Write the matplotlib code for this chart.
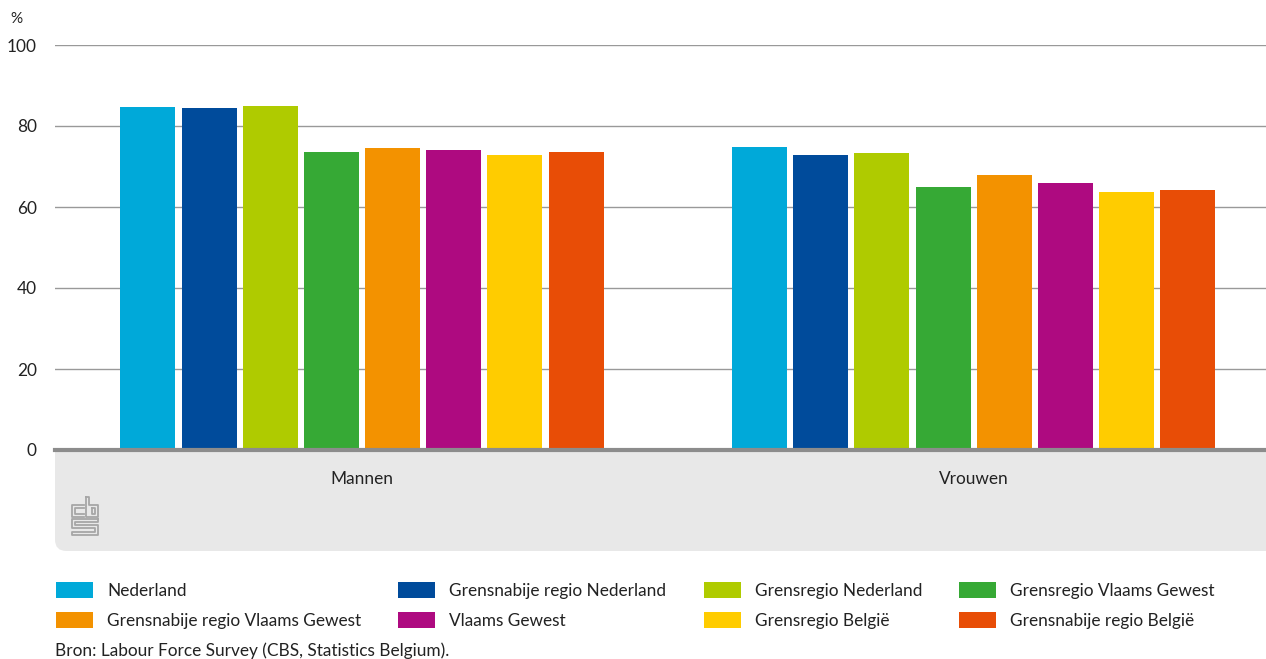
import numpy as np
import matplotlib.pyplot as plt
from matplotlib.patches import FancyBboxPatch, Rectangle
from matplotlib.lines import Line2D

plt.switch_backend('Agg')
plt.rcParams['font.family'] = ['Lato', 'DejaVu Sans']

# data
groups = ['Mannen', 'Vrouwen']
series = ['Nederland', 'Grensnabije regio Nederland', 'Grensregio Nederland',
          'Grensregio Vlaams Gewest', 'Grensnabije regio Vlaams Gewest',
          'Vlaams Gewest', 'Grensregio België', 'Grensnabije regio België']
mannen = [84.7, 84.4, 84.9, 73.6, 74.6, 74.1, 72.8, 73.6]
vrouwen = [74.8, 72.8, 73.3, 64.9, 67.9, 65.9, 63.7, 64.2]
colors = ['#00a9d9', '#004b9b', '#afcb00', '#36a935', '#f39200',
          '#ae0a80', '#ffcc00', '#e84d06']
yticks = [0, 20, 40, 60, 80, 100]
source = 'Bron: Labour Force Survey (CBS, Statistics Belgium).'

W, H = 1266, 659
fig = plt.figure(figsize=(W / 100, H / 100), dpi=100)
fig.patch.set_facecolor('white')

FS = 12.4
TXT = '#222222'


def px(x, y):
    # pixel coords (top-left origin) -> figure fraction
    return x / W, 1 - y / H


ax_left, ax_top, ax_bot = 55, 45, 450
ax = fig.add_axes([ax_left / W, 1 - ax_bot / H, (W - ax_left) / W, (ax_bot - ax_top) / H])
ax.set_facecolor('white')

# grey footer panel under the axis
x0, y0 = px(ax_left, 551)
panel = FancyBboxPatch((x0, y0), 1.2, (551 - 430) / H, transform=fig.transFigure,
                       boxstyle='round,pad=0,rounding_size=0.009', facecolor='#e8e8e8',
                       edgecolor='none', zorder=-1, mutation_aspect=W / H)
fig.patches.append(panel)

n = len(series)
step, width = 0.1, 0.09
vals = [mannen, vrouwen]
for i in range(n):
    offs = (i - (n - 1) / 2) * step
    ax.bar(np.arange(len(groups)) + offs, [v[i] for v in vals], width=width,
           color=colors[i], zorder=2)

ax.set_xlim(-0.502, 1.478)
ax.set_ylim(0, 100)
ax.set_yticks(yticks)
ax.set_yticklabels([str(t) for t in yticks], fontsize=FS, color=TXT)
ax.tick_params(axis='y', length=0, pad=13)
ax.set_xticks(range(len(groups)))
ax.set_xticklabels(groups, fontsize=FS, color=TXT)
ax.tick_params(axis='x', length=0, pad=15)
ax.grid(axis='y', color='#999999', linewidth=1, zorder=0)
ax.set_axisbelow(True)
for s in ax.spines.values():
    s.set_visible(False)
ax.axhline(0, color='#8c8c8c', linewidth=3, clip_on=False, zorder=3)

fig.text(*px(10, 19), '%', fontsize=11, color=TXT, va='center', ha='left')

# cbs logo (simplified maze-like outline)
lc = '#a6a6a6'
logo = [
    [(84, 505), (72, 505), (72, 517), (84, 517)],
    [(84, 508), (75, 508), (75, 514), (84, 514)],
    [(86, 497), (86, 517), (98, 517), (98, 505), (89, 505), (89, 497), (86, 497)],
    [(92, 508), (95, 508), (95, 514), (92, 514), (92, 508)],
    [(98, 519), (72, 519), (72, 528), (95, 528), (95, 532), (72, 532), (72, 535), (98, 535),
     (98, 525), (75, 525), (75, 522), (98, 522), (98, 519)],
]
for pts in logo:
    xs = [px(x, y)[0] for x, y in pts]
    ys = [px(x, y)[1] for x, y in pts]
    fig.add_artist(Line2D(xs, ys, transform=fig.transFigure, color=lc, linewidth=1.3))

# legend, row-wise
col_x = [55, 397, 703, 958]
row_y = [590, 620]
for i, (name, c) in enumerate(zip(series, colors)):
    cx = col_x[i % 4]
    cy = row_y[i // 4]
    rx, ry = px(cx + 1, cy + 8)
    fig.patches.append(Rectangle((rx, ry), 37 / W, 16 / H, transform=fig.transFigure,
                                 facecolor=c, edgecolor='none'))
    fig.text(*px(cx + 52, cy + 1), name, fontsize=FS, color=TXT, va='center', ha='left')

fig.text(*px(55, 651), source, fontsize=FS, color=TXT, va='center', ha='left')

fig.savefig('out.png', dpi=100)
